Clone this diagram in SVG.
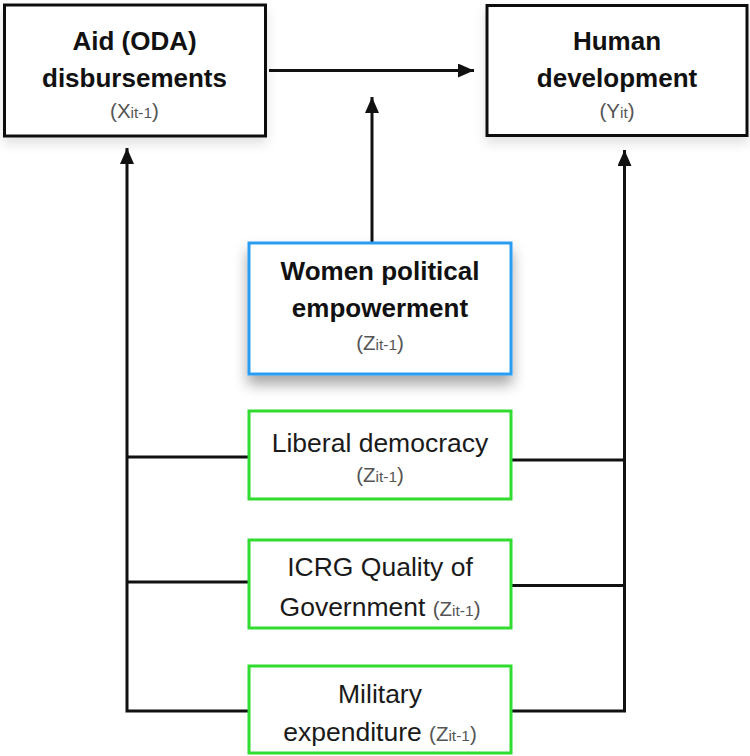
<svg xmlns="http://www.w3.org/2000/svg" width="750" height="756" viewBox="0 0 750 756">
<defs>
<style>
.box{fill:#fff;stroke:#111;stroke-width:3}
.blue{fill:#fff;stroke:#2c9cf2;stroke-width:3}
.green{fill:#fff;stroke:#2fdc2f;stroke-width:3}
.b{font-family:"Liberation Sans",Arial,sans-serif;font-weight:bold;font-size:26px;fill:#111;text-anchor:middle}
.r{font-family:"Liberation Sans",Arial,sans-serif;font-size:26.5px;fill:#1a1a1a;text-anchor:middle}
.sub{font-family:"Liberation Sans",Arial,sans-serif;font-size:20.5px;fill:#555;text-anchor:middle}
.sm{font-size:15.5px}
.ln{fill:none;stroke:#111;stroke-width:3}
</style>
<marker id="ah" markerWidth="16" markerHeight="14" refX="16" refY="7" orient="auto" markerUnits="userSpaceOnUse">
<path d="M0,0 L16,7 L0,14 Z" fill="#111"/>
</marker>
<filter id="sh" x="-30%" y="-20%" width="160%" height="160%">
<feDropShadow dx="0" dy="9" stdDeviation="7" flood-color="#000" flood-opacity="0.35"/>
</filter>
<filter id="sh2" x="-20%" y="-20%" width="140%" height="160%">
<feDropShadow dx="0" dy="6" stdDeviation="6" flood-color="#000" flood-opacity="0.12"/>
</filter>
</defs>
<rect width="750" height="756" fill="#fff"/>
<g id="connectors">
<line class="ln" x1="269" y1="70.5" x2="474" y2="70.5" marker-end="url(#ah)"/>
<line class="ln" x1="372" y1="243" x2="372" y2="97" marker-end="url(#ah)"/>
<path class="ln" d="M249,457 H127 M249,582 H127 M249,711 H127 V148" marker-end="url(#ah)"/>
<path class="ln" d="M511,460 H624.5 M511,585.5 H624.5 M511,711 H624.5 V150" marker-end="url(#ah)"/>
</g>
<g id="aid">
<rect class="box" x="4.5" y="5" width="261" height="131" filter="url(#sh2)"/>
<text class="b" x="134.5" y="50">Aid (ODA)</text>
<text class="b" x="134.5" y="87">disbursements</text>
<text class="sub" x="134.5" y="118">(X<tspan class="sm">it-1</tspan>)</text>
</g>
<g id="human">
<rect class="box" x="487" y="5.5" width="260" height="130" filter="url(#sh2)"/>
<text class="b" x="617" y="50">Human</text>
<text class="b" x="617" y="87">development</text>
<text class="sub" x="617" y="118">(Y<tspan class="sm">it</tspan>)</text>
</g>
<g id="women">
<rect class="blue" x="249" y="243" width="262" height="131" filter="url(#sh)"/>
<text class="b" x="380" y="280">Women political</text>
<text class="b" x="380" y="316.5">empowerment</text>
<text class="sub" x="380" y="350">(Z<tspan class="sm">it-1</tspan>)</text>
</g>
<g id="liberal">
<rect class="green" x="249" y="411" width="262" height="88"/>
<text class="r" x="380" y="452">Liberal democracy</text>
<text class="sub" x="380" y="482">(Z<tspan class="sm">it-1</tspan>)</text>
</g>
<g id="icrg">
<rect class="green" x="249" y="540" width="262" height="88"/>
<text class="r" x="380" y="575.5">ICRG Quality of</text>
<text class="r" x="380" y="616">Government <tspan font-size="20.5px" fill="#555">(Z<tspan class="sm">it-1</tspan>)</tspan></text>
</g>
<g id="military">
<rect class="green" x="249" y="666" width="262" height="87"/>
<text class="r" x="380" y="702.5">Military</text>
<text class="r" x="380" y="741">expenditure <tspan font-size="20.5px" fill="#555">(Z<tspan class="sm">it-1</tspan>)</tspan></text>
</g>
</svg>
